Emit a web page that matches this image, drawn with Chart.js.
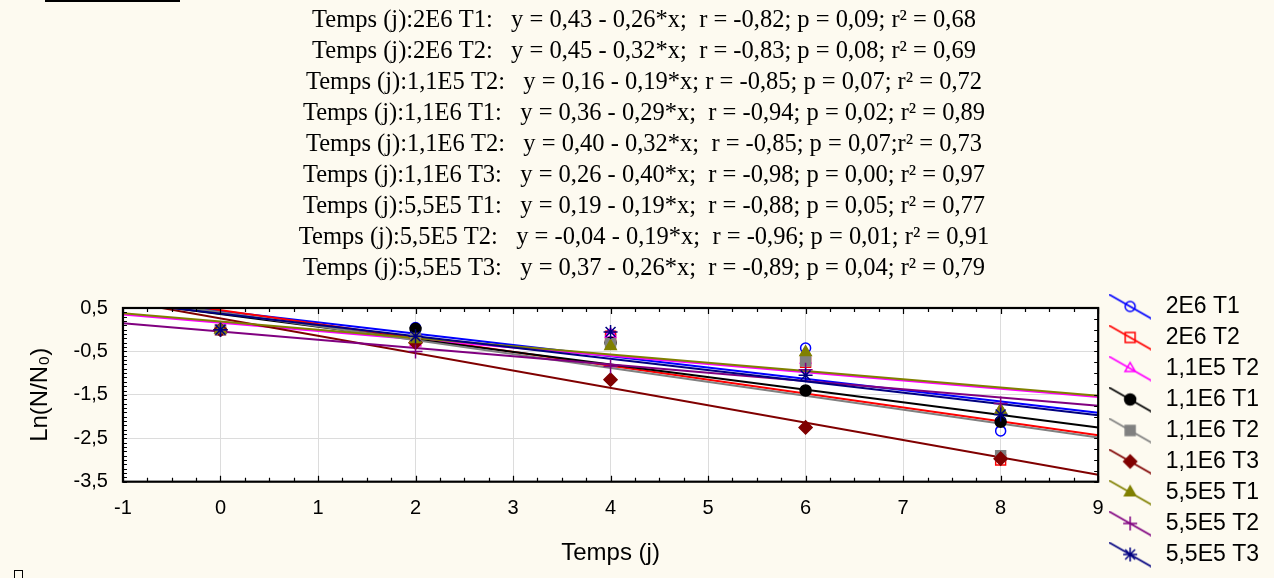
<!DOCTYPE html>
<html>
<head>
<meta charset="utf-8">
<script src="https://cdn.jsdelivr.net/npm/chart.js@4/dist/chart.umd.min.js"></script>
<style>
  html, body { margin: 0; padding: 0; background: #fdfaf0; }
  #wrap { position: relative; width: 1274px; height: 578px; }
</style>
</head>
<body>
<div id="wrap"><canvas id="ch"></canvas></div>
<script>
/* Ln(N/N0) en fonction du temps (j) — 9 séries + droites de régression */

const SERIES = ["2E6 T1", "2E6 T2", "1,1E5 T2", "1,1E6 T1", "1,1E6 T2", "1,1E6 T3", "5,5E5 T1", "5,5E5 T2", "5,5E5 T3"];
const DAYS = [0, 2, 4, 6, 8];

// valeurs, une liste par série
const V_2E6_T1   = [0, 0.05, -0.12, -0.42, -2.33];
const V_2E6_T2   = [0, -0.25, -0.15, -0.75, -3.00];
const V_11E5_T2  = [0, -0.30, -0.10, -0.70, -1.85];
const V_11E6_T1  = [0, 0.02, -0.30, -1.40, -2.12];
const V_11E6_T2  = [0, -0.20, -0.32, -0.72, -2.90];
const V_11E6_T3  = [0, -0.30, -1.15, -2.25, -2.97];
const V_55E5_T1  = [0, -0.22, -0.38, -0.52, -1.85];
const V_55E5_T2  = [0, -0.50, -0.85, -0.92, -1.70];
const V_55E5_T3  = [0, -0.15, -0.05, -1.05, -1.95];
const VALUES = [V_2E6_T1, V_2E6_T2, V_11E5_T2, V_11E6_T1, V_11E6_T2, V_11E6_T3, V_55E5_T1, V_55E5_T2, V_55E5_T3];

// coefficients imprimés au-dessus du graphique (y = a + b*x)
const INTERCEPT = [0.43, 0.45, 0.16, 0.36, 0.40, 0.26, 0.19, -0.04, 0.37];
const SLOPE     = [-0.26, -0.32, -0.19, -0.29, -0.32, -0.40, -0.19, -0.19, -0.26];

const EQ_LINES = [
  "Temps (j):2E6 T1:   y = 0,43 - 0,26*x;  r = -0,82; p = 0,09; r² = 0,68",
  "Temps (j):2E6 T2:   y = 0,45 - 0,32*x;  r = -0,83; p = 0,08; r² = 0,69",
  "Temps (j):1,1E5 T2:   y = 0,16 - 0,19*x; r = -0,85; p = 0,07; r² = 0,72",
  "Temps (j):1,1E6 T1:   y = 0,36 - 0,29*x;  r = -0,94; p = 0,02; r² = 0,89",
  "Temps (j):1,1E6 T2:   y = 0,40 - 0,32*x;  r = -0,85; p = 0,07;r² = 0,73",
  "Temps (j):1,1E6 T3:   y = 0,26 - 0,40*x;  r = -0,98; p = 0,00; r² = 0,97",
  "Temps (j):5,5E5 T1:   y = 0,19 - 0,19*x;  r = -0,88; p = 0,05; r² = 0,77",
  "Temps (j):5,5E5 T2:   y = -0,04 - 0,19*x;  r = -0,96; p = 0,01; r² = 0,91",
  "Temps (j):5,5E5 T3:   y = 0,37 - 0,26*x;  r = -0,89; p = 0,04; r² = 0,79"
];

const X_MIN = -1, X_MAX = 9;
const Y_MIN = -3.5, Y_MAX = 0.5;
const Y_LABELED = [0.5, -0.5, -1.5, -2.5, -3.5];

// styles (couleur, marqueur)
const STYLE = [
  { c: "#0000ff", shape: "circle",   r: 5, fill: false },
  { c: "#ff0000", shape: "rect",     r: 7, fill: false },
  { c: "#ff00ff", shape: "triangle", r: 6, fill: false },
  { c: "#000000", shape: "circle",   r: 5.5, fill: true },
  { c: "#808080", shape: "rect",     r: 7, fill: true },
  { c: "#800000", shape: "rectRot",  r: 6.5, fill: true },
  { c: "#808000", shape: "triangle", r: 6.5, fill: true },
  { c: "#800080", shape: "cross",    r: 7, fill: false },
  { c: "#000080", shape: "star",     r: 7, fill: false }
];

const SANS = "'Liberation Sans', Arial, sans-serif";
const fmt = v => String(Math.round(v * 10) / 10).replace(".", ",");

function legendIcon(i) {
  const st = STYLE[i], c = document.createElement("canvas");
  c.width = 42; c.height = 26;
  const g = c.getContext("2d");
  g.strokeStyle = st.c; g.lineWidth = 1.6;
  g.beginPath(); g.moveTo(0, 1); g.lineTo(42, 25); g.stroke();
  g.fillStyle = st.fill ? st.c : "rgba(0,0,0,0)"; g.lineWidth = 1.5;
  if (Chart.helpers && Chart.helpers.drawPoint)
    Chart.helpers.drawPoint(g, { pointStyle: st.shape, radius: st.r, rotation: 0, borderWidth: 1.5 }, 21, 13);
  return c;
}

const datasets = [];
SERIES.forEach((name, i) => {
  const st = STYLE[i];
  datasets.push({
    label: name, data: DAYS.map((d, k) => ({ x: d, y: VALUES[i][k] })),
    showLine: false, pointStyle: st.shape, pointRadius: st.r, pointBorderWidth: 1.5,
    borderColor: st.c, backgroundColor: st.fill ? st.c : "rgba(0,0,0,0)", order: 100 - i
  });
});
SERIES.forEach((name, i) => {
  datasets.push({
    label: name + " fit", type: "line",
    data: [{ x: X_MIN, y: INTERCEPT[i] + SLOPE[i] * X_MIN }, { x: X_MAX, y: INTERCEPT[i] + SLOPE[i] * X_MAX }],
    borderColor: STYLE[i].c, borderWidth: 2, pointRadius: 0, fill: false, tension: 0, order: 200 - i
  });
});

// fond crème + zone de tracé blanche
const bgPlug = {
  id: "bg",
  beforeDraw(ch) {
    const { ctx, chartArea: a } = ch;
    ctx.save();
    ctx.fillStyle = "#fdfaf0"; ctx.fillRect(0, 0, ch.width, ch.height);
    ctx.fillStyle = "#ffffff"; ctx.fillRect(a.left, a.top, a.right - a.left, a.bottom - a.top);
    ctx.restore();
  }
};

// cadre noir + graduations intérieures
const framePlug = {
  id: "frame",
  afterDatasetsDraw(ch) {
    const { ctx, chartArea: a, scales: { x, y } } = ch;
    ctx.save();
    ctx.strokeStyle = "#000"; ctx.lineWidth = 1.2;
    ctx.beginPath();
    for (let v = Y_MIN; v <= Y_MAX + 1e-9; v += 0.1) {
      const p = Math.round(y.getPixelForValue(v)) + 0.5;
      ctx.moveTo(a.left, p); ctx.lineTo(a.left + 4, p);
    }
    for (let v = Y_MIN; v <= Y_MAX + 1e-9; v += 0.25) {
      const p = Math.round(y.getPixelForValue(v)) + 0.5;
      ctx.moveTo(a.right, p); ctx.lineTo(a.right - 4, p);
    }
    for (let v = X_MIN; v <= X_MAX + 1e-9; v += 0.25) {
      const p = Math.round(x.getPixelForValue(v)) + 0.5, L = Math.abs(v - Math.round(v)) < 1e-6 ? 6 : 4;
      ctx.moveTo(p, a.top); ctx.lineTo(p, a.top + L);
      ctx.moveTo(p, a.bottom); ctx.lineTo(p, a.bottom - L);
    }
    ctx.stroke();
    ctx.lineWidth = 2.2;
    ctx.strokeRect(a.left, a.top, a.right - a.left, a.bottom - a.top);
    ctx.restore();
  }
};

// restes de la page : soulignement en haut, petit carré en bas
const decoPlug = {
  id: "deco",
  afterDraw(ch) {
    const ctx = ch.ctx;
    ctx.save();
    ctx.strokeStyle = "#000"; ctx.lineWidth = 2;
    ctx.beginPath(); ctx.moveTo(45, 1); ctx.lineTo(180, 1); ctx.stroke();
    ctx.lineWidth = 1; ctx.strokeRect(14.5, 570.5, 8, 8);
    ctx.restore();
  }
};

new Chart(document.getElementById("ch"), {
  type: "scatter",
  data: { datasets },
  options: {
    responsive: true, maintainAspectRatio: false, animation: false, events: [],
    layout: { padding: { left: 19, right: 5, top: 0, bottom: 0 } },
    plugins: {
      tooltip: { enabled: false },
      title: {
        display: true, text: EQ_LINES, color: "#000",
        font: { family: "'Liberation Serif', serif", size: 24.5, weight: "normal", lineHeight: "31px" },
        padding: { top: 5.5, bottom: 23.5 }
      },
      legend: {
        position: "right", align: "start",
        title: { display: true, text: " ", font: { size: 10 }, padding: { top: 275, bottom: 0 } },
        labels: {
          usePointStyle: true, pointStyleWidth: 48, padding: 8, color: "#000",
          font: { family: SANS, size: 23 },
          generateLabels: () => SERIES.map((name, i) => ({
            text: name, pointStyle: legendIcon(i), fillStyle: "rgba(0,0,0,0)",
            strokeStyle: "rgba(0,0,0,0)", lineWidth: 0, hidden: false, datasetIndex: i, fontColor: "#000"
          }))
        }
      }
    },
    scales: {
      x: {
        type: "linear", position: "bottom", min: X_MIN, max: X_MAX,
        grid: { color: "#dcdcdc", lineWidth: 1, drawTicks: false },
        border: { display: false },
        ticks: { stepSize: 1, padding: 15, color: "#000", font: { family: SANS, size: 20 }, callback: v => fmt(v) },
        title: { display: true, text: "Temps (j)", color: "#000", font: { family: SANS, size: 24 }, padding: { top: 2.9, bottom: 10.6 } }
      },
      y: {
        type: "linear", position: "left", min: Y_MIN, max: Y_MAX,
        grid: { color: "#dcdcdc", lineWidth: 1, drawTicks: false },
        border: { display: false },
        ticks: {
          stepSize: 0.5, padding: 15, color: "#000", font: { family: SANS, size: 20 },
          callback: v => Y_LABELED.some(t => Math.abs(t - v) < 1e-6) ? fmt(v) : ""
        },
        title: { display: true, text: "Ln(N/N₀)", color: "#000", font: { family: SANS, size: 24 }, padding: { top: 6.6, bottom: 4.1 } }
      }
    }
  },
  plugins: [bgPlug, framePlug, decoPlug]
});
</script>
</body>
</html>
